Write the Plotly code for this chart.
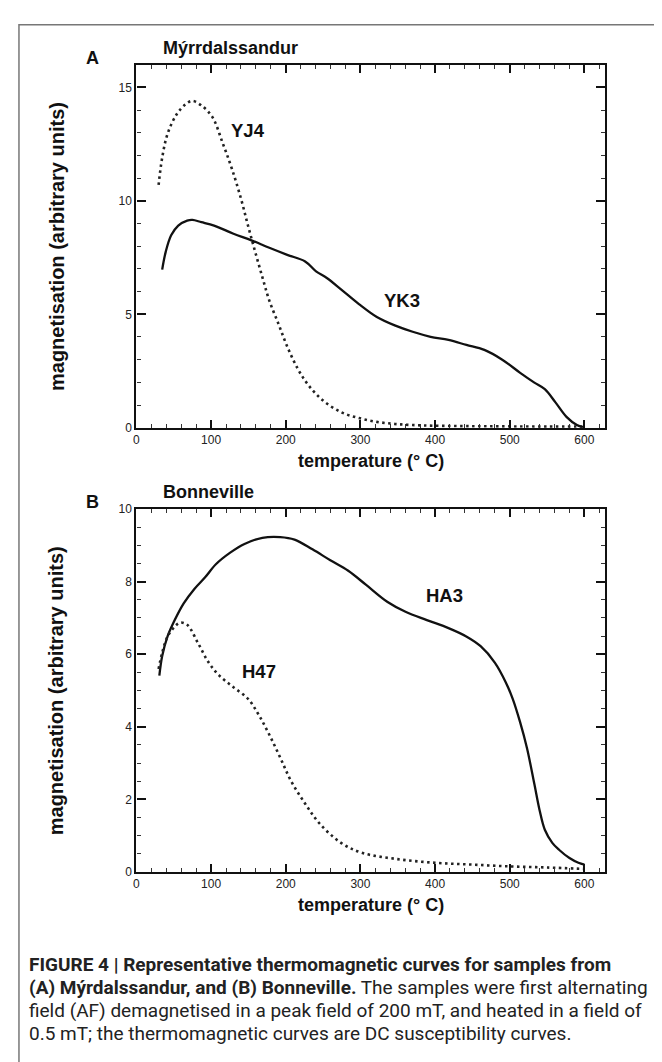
import plotly.graph_objects as go

W, H = 662, 1062

# ---- data (temperature in °C, magnetisation in arbitrary units) ----
yj4_t = [29.7, 34.5, 41.7, 53.7, 65.7, 75, 87, 101.6, 116, 128, 140, 149.5, 159, 169, 178, 190, 202, 216.6,
         231, 250, 274, 298, 322, 346, 370, 400, 450, 500, 550, 600]
yj4_m = [10.7, 11.9, 12.95, 13.8, 14.25, 14.4, 14.2, 13.7, 12.5, 11.4, 10.1, 8.9, 7.76, 6.6, 5.6, 4.6, 3.58, 2.57,
         1.85, 1.2, 0.69, 0.43, 0.26, 0.17, 0.12, 0.09, 0.07, 0.06, 0.05, 0.05]

yk3_t = [34.5, 39.3, 46.5, 56, 68, 75, 87, 104, 130, 154, 178, 202, 226, 240.6, 255, 274, 298, 322, 346, 370,
         394, 418, 442, 466, 490, 514, 533, 547, 561, 576, 590, 600]
yk3_m = [6.97, 7.76, 8.48, 8.91, 9.13, 9.16, 9.06, 8.91, 8.55, 8.26, 7.93, 7.62, 7.33, 6.89, 6.6, 6.1, 5.45, 4.88,
         4.51, 4.23, 4.01, 3.87, 3.65, 3.43, 3.0, 2.42, 1.99, 1.70, 1.13, 0.48, 0.12, 0.0]

ha3_t = [30.7, 34.5, 41.7, 51.3, 63.3, 77.6, 92, 106.4, 125.6, 144.7, 168.7, 192.6, 211.8, 235.8, 259.7, 283.7,
         307.7, 336.4, 360.4, 389, 418, 441.8, 461, 480, 494.6, 504, 513.7, 523, 533, 540, 547, 557, 566, 580, 592, 600]
ha3_m = [5.41, 5.95, 6.49, 6.94, 7.40, 7.80, 8.12, 8.48, 8.80, 9.04, 9.21, 9.23, 9.16, 8.89, 8.59, 8.30,
         7.91, 7.44, 7.17, 6.94, 6.72, 6.49, 6.22, 5.77, 5.23, 4.77, 4.14, 3.42, 2.42, 1.70, 1.16, 0.80, 0.61, 0.38,
         0.25, 0.2]

h47_t = [29.7, 34.5, 41.7, 51.3, 58.5, 68, 82.4, 96.8, 111, 130, 149.5, 164, 178, 192.6, 207, 226, 245, 274,
         303, 350, 400, 450, 500, 550, 600]
h47_m = [5.59, 6.04, 6.49, 6.76, 6.87, 6.81, 6.31, 5.77, 5.41, 5.09, 4.77, 4.32, 3.78, 3.15, 2.51, 1.88, 1.34,
         0.80, 0.52, 0.35, 0.25, 0.2, 0.15, 0.12, 0.08]

panel_letters = ["A", "B"]
panel_titles = ["Mýrrdalssandur", "Bonneville"]
x_title = "temperature (° C)"
y_title = "magnetisation (arbitrary units)"
curve_labels = [("YJ4", 149.5, 13.1, "x", "y"), ("YK3", 355.6, 5.6, "x", "y"),
                ("HA3", 413, 7.62, "x2", "y2"), ("H47", 164, 5.51, "x2", "y2")]
caption_lines = [
    "<b>FIGURE 4 | Representative thermomagnetic curves for samples from</b>",
    "<b>(A) Mýrdalssandur, and (B) Bonneville.</b> The samples were first alternating",
    "field (AF) demagnetised in a peak field of 200 mT, and heated in a field of",
    "0.5 mT; the thermomagnetic curves are DC susceptibility curves.",
]

# ---- layout helpers (pixel -> paper) ----
def px(x):
    return x / W

def py(y):
    return 1 - y / H

XL, XR = 126, 597
top_box = (50.3, 418.3)
bot_box = (500.7, 868.3)

fig = go.Figure()
solid = dict(color="#111", width=2.3)
dotted = dict(color="#222", width=2.6, dash="2.5px,3.5px")
fig.add_trace(go.Scatter(x=yj4_t, y=yj4_m, mode="lines", line=dotted, line_shape="spline", xaxis="x", yaxis="y"))
fig.add_trace(go.Scatter(x=yk3_t, y=yk3_m, mode="lines", line=solid, line_shape="spline", xaxis="x", yaxis="y"))
fig.add_trace(go.Scatter(x=ha3_t, y=ha3_m, mode="lines", line=solid, line_shape="spline", xaxis="x2", yaxis="y2"))
fig.add_trace(go.Scatter(x=h47_t, y=h47_m, mode="lines", line=dotted, line_shape="spline", xaxis="x2", yaxis="y2"))

tickfont = dict(family="Liberation Sans, Arial, sans-serif", size=12, color="#222")

def xaxis_cfg(anchor):
    return dict(domain=[px(XL), px(XR)], range=[0, 628], anchor=anchor, dtick=100, tick0=0,
                ticks="inside", ticklen=8, tickwidth=1.5, tickcolor="#111",
                minor=dict(dtick=20, ticks="inside", ticklen=4, tickwidth=1, tickcolor="#333"),
                showline=True, linewidth=2.3, linecolor="#111", mirror="allticks",
                showgrid=False, zeroline=False, tickfont=tickfont)

def yaxis_cfg(anchor, box, rng, dt, mdt):
    return dict(domain=[py(box[1]), py(box[0])], range=rng, anchor=anchor, dtick=dt, tick0=0,
                ticks="inside", ticklen=9, tickwidth=1.5, tickcolor="#111",
                minor=dict(dtick=mdt, ticks="inside", ticklen=4, tickwidth=1, tickcolor="#333"),
                showline=True, linewidth=2.3, linecolor="#111", mirror="allticks",
                showgrid=False, zeroline=False, tickfont=tickfont)

fig.update_layout(
    width=W, height=H, margin=dict(l=0, r=0, t=0, b=0),
    paper_bgcolor="white", plot_bgcolor="white", showlegend=False,
    xaxis=xaxis_cfg("y"), yaxis=yaxis_cfg("x", top_box, [0, 16], 5, 1),
    xaxis2=xaxis_cfg("y2"), yaxis2=yaxis_cfg("x2", bot_box, [0, 10], 2, 0.5),
)

bold = dict(family="Liberation Sans, Arial, sans-serif", color="#111")
ann = []
for letter, title, box in zip(panel_letters, panel_titles, [top_box, bot_box]):
    ann.append(dict(x=px(82), y=py(box[0] - 7), xref="paper", yref="paper", text="<b>%s</b>" % letter,
                    showarrow=False, xanchor="center", yanchor="middle", font=dict(size=18, **bold)))
    ann.append(dict(x=px(151), y=py(box[0] - 17), xref="paper", yref="paper", text="<b>%s</b>" % title,
                    showarrow=False, xanchor="left", yanchor="middle", font=dict(size=18, **bold)))
    ann.append(dict(x=px(362), y=py(box[1] + 34), xref="paper", yref="paper", text="<b>%s</b>" % x_title,
                    showarrow=False, xanchor="center", yanchor="middle", font=dict(size=18, **bold)))
    ann.append(dict(x=px(46), y=py((box[0] + box[1]) / 2), xref="paper", yref="paper",
                    text="<b>%s</b>" % y_title, textangle=-90,
                    showarrow=False, xanchor="center", yanchor="middle", font=dict(size=20, **bold)))
for name, t, m, xr, yr in curve_labels:
    ann.append(dict(x=t, y=m, xref=xr, yref=yr, text="<b>%s</b>" % name, showarrow=False,
                    xanchor="center", yanchor="middle", font=dict(size=18.5, **bold)))
cap_y = [962, 985.5, 1009, 1032.5]
for line, yy in zip(caption_lines, cap_y):
    ann.append(dict(x=px(16), y=py(yy), xref="paper", yref="paper", text=line, showarrow=False,
                    xanchor="left", yanchor="middle",
                    font=dict(family="Roboto, Liberation Sans, sans-serif", size=19, color="#222")))
fig.update_layout(annotations=ann)

# outer figure frame
fig.add_shape(type="path", xref="paper", yref="paper",
              path="M %f %f L %f %f L %f %f L %f %f" % (px(8), py(H + 5), px(8), py(10), px(655), py(10), px(655), py(H + 5)),
              line=dict(color="#777", width=1.5))

fig.write_html("out.html")
